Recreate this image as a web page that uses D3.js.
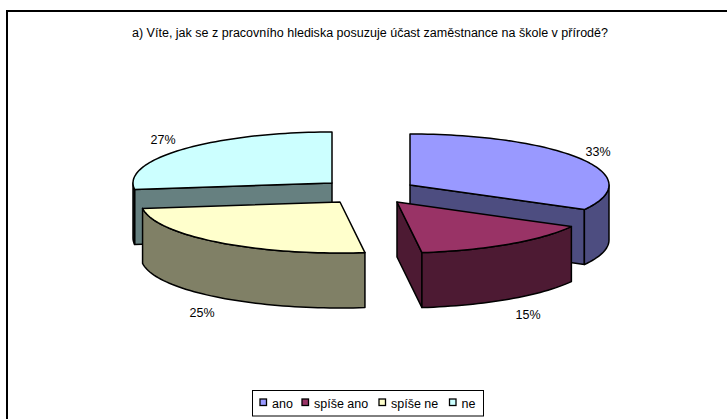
<!DOCTYPE html>
<html><head><meta charset="utf-8">
<script src="https://cdn.jsdelivr.net/npm/d3@7"></script>
<style>html,body{margin:0;padding:0;background:#fff}svg{display:block}text{font-family:"Liberation Sans",Arial,sans-serif;fill:#000}</style>
</head><body><svg id="c" width="727" height="419"></svg>
<script>
const title = "a) Víte, jak se z pracovního hlediska posuzuje účast zaměstnance na škole v přírodě?";
const categories = ["ano","spíše ano","spíše ne","ne"];
const values = [33,15,25,27];
const labels = ["33%","15%","25%","27%"];
const topColors = ["#9999ff","#993366","#ffffcc","#ccffff"];
const sideColors = ["#4d4d80","#4d1a33","#808066","#668080"];

// layout (not data)
const W=727,H=419, cx=371, cy=193, rx=199, ry=51, depth=55;
const explode=[[39,-8],[26,9],[-31,9],[-39,-10]];
const labelPos=[[598,156],[528,319],[202,317],[163,144]];
const drawOrder=[3,0,2,1];

const svg=d3.select("#c");
svg.append("rect").attr("x",7).attr("y",11).attr("width",W+20).attr("height",H+20)
  .attr("fill","#fff").attr("stroke","#000").attr("stroke-width",2);

svg.append("text").attr("x",370).attr("y",37).attr("text-anchor","middle")
  .attr("font-size",12).attr("textLength",476).attr("lengthAdjust","spacingAndGlyphs").text(title);

const arcs=d3.pie().sort(null).value(d=>d)(values);
const sx=d3.scaleLinear().domain([-1,1]).range([-rx,rx]);
const sy=d3.scaleLinear().domain([-1,1]).range([ry,-ry]);
const px=a=>sx(Math.sin(a)), py=a=>sy(Math.cos(a));
const line=d3.line();
const sweep=(a0,a1,ox,oy,dz=0)=>{
  const n=Math.max(2,Math.ceil(Math.abs(a1-a0)/0.03));
  return d3.range(n+1).map(i=>{const a=a0+(a1-a0)*i/n;return [ox+px(a),oy+py(a)+dz];});
};
const PI=Math.PI;
const g=svg.append("g").attr("stroke","#000").attr("stroke-width",1.5).attr("stroke-linejoin","round");
drawOrder.forEach(i=>{
  const d=arcs[i], ox=cx+explode[i][0], oy=cy+explode[i][1];
  const side=sideColors[i];
  const wall=a=>{
    const e=[ox+px(a),oy+py(a)];
    g.append("path").attr("fill",side).attr("d",line([[ox,oy],e,[e[0],e[1]+depth],[ox,oy+depth]])+"Z");
  };
  if(Math.sin(d.startAngle)<-1e-6) wall(d.startAngle);
  if(Math.sin(d.endAngle)>1e-6) wall(d.endAngle);
  const r0=Math.max(d.startAngle,PI/2), r1=Math.min(d.endAngle,3*PI/2);
  if(r1>r0){
    const top=sweep(r0,r1,ox,oy), bot=sweep(r0,r1,ox,oy,depth).reverse();
    g.append("path").attr("fill",side).attr("d",line(top.concat(bot))+"Z");
  }
  g.append("path").attr("fill",topColors[i])
    .attr("d",line([[ox,oy]].concat(sweep(d.startAngle,d.endAngle,ox,oy)))+"Z");
});

svg.append("g").selectAll("text").data(labels).join("text")
  .attr("x",(d,i)=>labelPos[i][0]).attr("y",(d,i)=>labelPos[i][1])
  .attr("text-anchor","middle").attr("font-size",12.5).attr("fill","#222").text(d=>d);

const lg=svg.append("g");
lg.append("rect").attr("x",252.5).attr("y",390.5).attr("width",231).attr("height",25.5)
  .attr("fill","#fff").attr("stroke","#000").attr("stroke-width",1);
const legX=[260,302,379,449.5], legT=[272,314,391,461.5];
categories.forEach((c,i)=>{
  lg.append("rect").attr("x",legX[i]).attr("y",399).attr("width",6.5).attr("height",6.5)
    .attr("fill",topColors[i]).attr("stroke","#000").attr("stroke-width",1.3);
  lg.append("text").attr("x",legT[i]).attr("y",408).attr("font-size",12.5).text(c);
});
</script></body></html>
